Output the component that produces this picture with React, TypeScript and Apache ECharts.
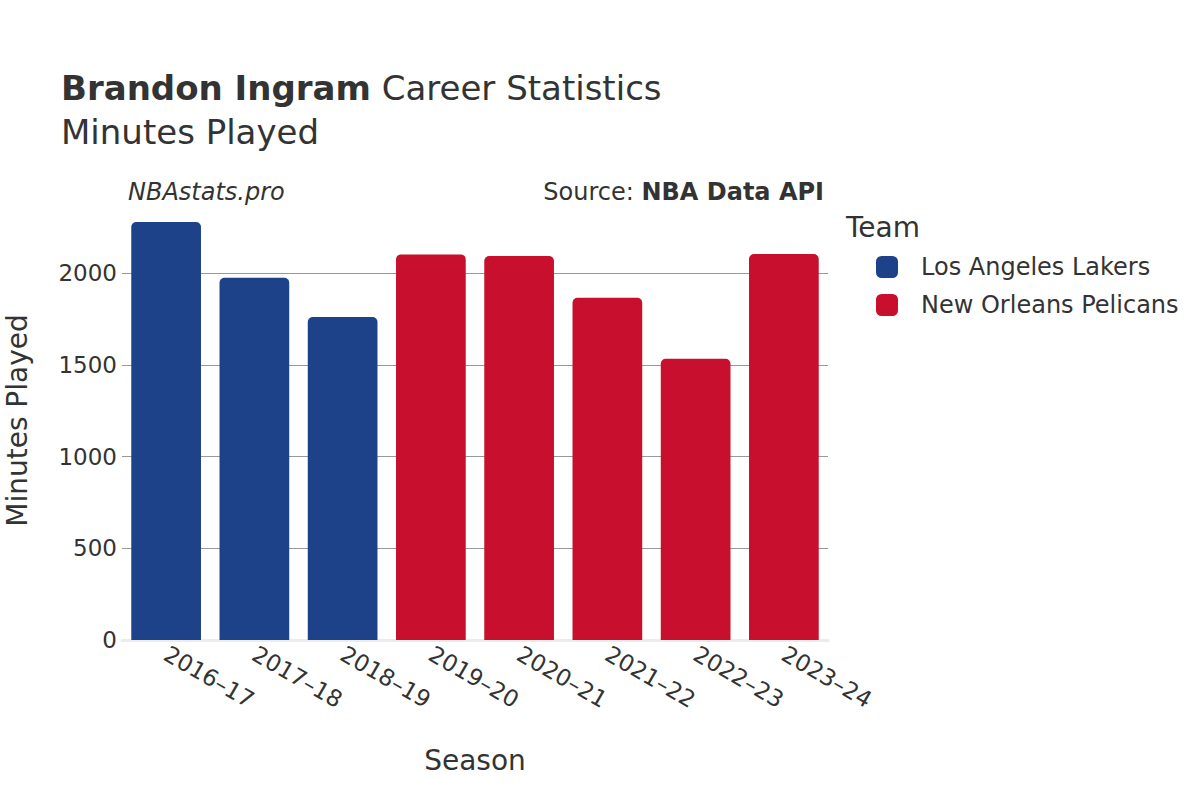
import React, { useEffect, useRef } from "react";
import * as echarts from "echarts";

const seasons = ["2016-17", "2017-18", "2018-19", "2019-20", "2020-21", "2021-22", "2022-23", "2023-24"];
const lakersMinutes = [2279, 1975, 1760, null, null, null, null, null];
const pelicansMinutes = [null, null, null, 2102, 2093, 1866, 1533, 2104];
const teamNames = ["Los Angeles Lakers", "New Orleans Pelicans"];
const teamColors = ["#1D428A", "#C8102E"];

const FONT = "DejaVu Sans";

export default function App() {
  const ref = useRef<HTMLDivElement>(null);
  useEffect(() => {
    if (!ref.current) return;
    const chart = echarts.init(ref.current, null, { renderer: "svg" });
    chart.setOption({
      animation: false,
      backgroundColor: "#ffffff",
      textStyle: { fontFamily: FONT },
      grid: { left: 122, right: 372, top: 201, bottom: 160, containLabel: false, outerBoundsMode: "none" },
      graphic: [
        {
          type: "text",
          left: 61,
          top: 71,
          style: {
            text: "{b|Brandon Ingram} Career Statistics",
            rich: {
              b: { fontWeight: "bold", fontSize: 34, fontFamily: FONT, fill: "#333" },
            },
            fontSize: 34,
            fontFamily: FONT,
            fill: "#333",
          },
        },
        {
          type: "text",
          left: 61,
          top: 115,
          style: { text: "Minutes Played", fontSize: 34, fontFamily: FONT, fill: "#333" },
        },
        {
          type: "text",
          left: 128,
          top: 180,
          style: { text: "NBAstats.pro", fontSize: 24, fontStyle: "italic", fontFamily: FONT, fill: "#333" },
        },
        {
          type: "text",
          right: 376,
          top: 180,
          style: {
            text: "Source: {b|NBA Data API}",
            rich: { b: { fontWeight: "bold", fontSize: 24, fontFamily: FONT, fill: "#333" } },
            fontSize: 24,
            fontFamily: FONT,
            fill: "#333",
          },
        },
        {
          type: "text",
          left: 846,
          top: 213,
          style: { text: "Team", fontSize: 28, fontFamily: FONT, fill: "#333" },
        },
      ],
      legend: {
        orient: "vertical",
        left: 871,
        top: 250,
        icon: "roundRect",
        itemWidth: 22,
        itemHeight: 22,
        itemGap: 14,
        textStyle: { fontSize: 24, fontFamily: FONT, color: "#333", padding: [0, 0, 0, 18] },
        data: teamNames,
      },
      xAxis: {
        type: "category",
        data: seasons,
        name: "Season",
        nameLocation: "middle",
        nameGap: 106,
        nameTextStyle: { fontSize: 28, fontFamily: FONT, color: "#333" },
        axisLine: { show: true, lineStyle: { color: "#ececec", width: 3 } },
        axisTick: { show: false },
        axisLabel: {
          rotate: -30,
          fontSize: 23,
          fontFamily: FONT,
          color: "#333",
          margin: 12,
          formatter: (v: string) => v.replace("-", "–"),
        },
      },
      yAxis: {
        type: "value",
        min: 0,
        max: 2393,
        interval: 500,
        name: "Minutes Played",
        nameLocation: "middle",
        nameGap: 91,
        nameTextStyle: { fontSize: 28, fontFamily: FONT, color: "#333" },
        axisLine: { show: false },
        axisTick: { show: false },
        axisLabel: {
          fontSize: 23,
          fontFamily: FONT,
          color: "#333",
          margin: 5,
          showMaxLabel: false,
          formatter: (v: number) => String(v),
        },
        splitLine: { showMaxLine: false, lineStyle: { color: "#999", width: 1 } },
      },
      series: [
        {
          name: teamNames[0],
          type: "bar",
          stack: "total",
          data: lakersMinutes,
          barWidth: "79%",
          itemStyle: { color: teamColors[0], borderRadius: [5, 5, 0, 0] },
        },
        {
          name: teamNames[1],
          type: "bar",
          stack: "total",
          data: pelicansMinutes,
          barWidth: "79%",
          itemStyle: { color: teamColors[1], borderRadius: [5, 5, 0, 0] },
        },
      ],
    });
    return () => chart.dispose();
  }, []);
  return <div ref={ref} style={{ position: "absolute", left: 0, top: 0, width: 1200, height: 800 }} />;
}
